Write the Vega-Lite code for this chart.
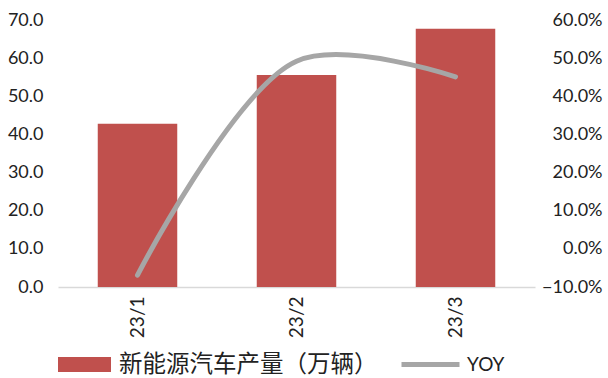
{
  "$schema": "https://vega.github.io/schema/vega-lite/v6.json",
  "width": 477,
  "height": 267,
  "autosize": {"type": "none"},
  "padding": {"left": 58, "top": 20, "right": 73, "bottom": 91},
  "background": "white",
  "config": {
    "view": {"stroke": null},
    "font": "Lato",
    "axis": {"grid": false, "ticks": false, "tickSize": 0, "labelColor": "#222222", "labelFont": "Lato", "labelFontSize": 18, "domain": false, "title": null}
  },
  "data": {
    "values": [
      {"month": "23/1", "prod": 42.8, "yoy": -0.069},
      {"month": "23/2", "prod": 55.6, "yoy": 0.492},
      {"month": "23/3", "prod": 67.7, "yoy": 0.451}
    ]
  },
  "layer": [
    {
      "mark": {"type": "bar", "color": "#C0504D"},
      "encoding": {
        "x": {"field": "month", "type": "ordinal", "sort": null,
          "scale": {"paddingInner": 0.5, "paddingOuter": 0.25},
          "axis": {"labelAngle": 270, "domain": true, "domainColor": "#D9D9D9", "domainWidth": 1.5, "labelPadding": 9, "labelFontSize": 19}},
        "y": {"field": "prod", "type": "quantitative", "scale": {"domain": [0, 70]},
          "axis": {"values": [0, 10, 20, 30, 40, 50, 60, 70], "format": ".1f", "labelPadding": 15}},
        "color": {"datum": "新能源汽车产量（万辆）", "type": "nominal", "scale": {"range": ["#C0504D"]},
          "legend": {"orient": "none", "legendX": 0, "legendY": 318, "title": null, "symbolType": "M-1,-0.28H1V0.28H-1Z", "symbolSize": 2809, "symbolStrokeWidth": 0, "labelFont": "Noto Sans CJK SC", "labelFontSize": 23.5, "labelColor": "#222222", "labelOffset": 8, "labelLimit": 400}}
      }
    },
    {
      "mark": {"type": "line", "interpolate": "catmull-rom", "strokeWidth": 5, "strokeCap": "round"},
      "encoding": {
        "x": {"field": "month", "type": "ordinal", "sort": null},
        "y": {"field": "yoy", "type": "quantitative", "scale": {"domain": [-0.1, 0.6]},
          "axis": {"orient": "right", "values": [-0.1, 0, 0.1, 0.2, 0.3, 0.4, 0.5, 0.6], "format": ".1%", "labelAlign": "right", "labelPadding": 67}},
        "stroke": {"datum": "YOY", "type": "nominal", "scale": {"range": ["#A6A6A6"]},
          "legend": {"orient": "none", "legendX": 341, "legendY": 313, "title": null, "symbolType": "stroke", "symbolSize": 3364, "symbolStrokeWidth": 5, "labelFont": "Lato", "labelFontSize": 19, "labelColor": "#222222", "labelOffset": 5, "labelLimit": 200}}
      }
    }
  ],
  "resolve": {"scale": {"y": "independent"}}
}
